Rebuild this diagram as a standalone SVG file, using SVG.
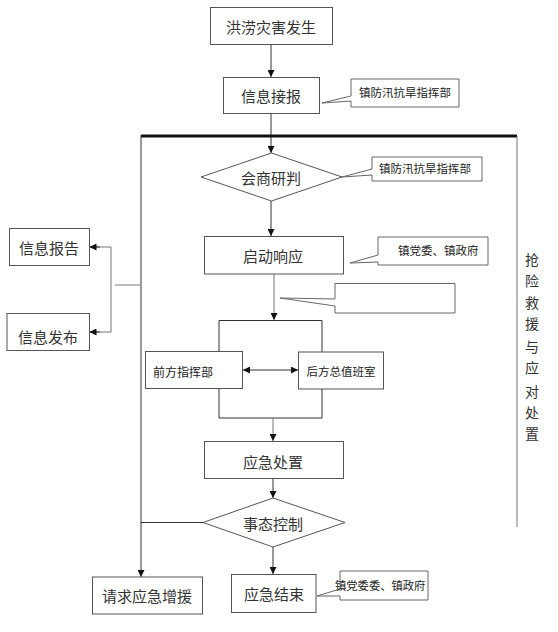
<svg xmlns="http://www.w3.org/2000/svg" width="558" height="632" viewBox="0 0 558 632">
<defs>
<marker id="ah" viewBox="0 0 10 10" refX="10" refY="5" markerWidth="7" markerHeight="7" orient="auto-start-reverse" markerUnits="userSpaceOnUse">
<path d="M0,0 L10,5 L0,10 Z" fill="#111"/>
</marker>
<style>
.box{fill:#fff;stroke:#555;stroke-width:1}
.co{fill:#fff;stroke:#666;stroke-width:1}
.t{font-family:"Noto Sans CJK SC","Liberation Sans",sans-serif;font-size:15px;fill:#333;text-anchor:middle;dominant-baseline:central}
.v{font-family:"Noto Sans CJK SC","Liberation Sans",sans-serif;font-size:14px;fill:#333;text-anchor:middle;dominant-baseline:central}
.s{font-family:"Noto Sans CJK SC","Liberation Sans",sans-serif;font-size:11.5px;fill:#222;dominant-baseline:central}
.ln{fill:none;stroke:#333;stroke-width:1}
.lg{fill:none;stroke:#777;stroke-width:1}
</style>
</defs>
<rect width="558" height="632" fill="#fff"/>
<g id="connectors">
<line class="ln" x1="271" y1="44" x2="271" y2="77" marker-end="url(#ah)"/>
<line class="ln" x1="271" y1="113" x2="271" y2="153" marker-end="url(#ah)"/>
<line x1="141" y1="136" x2="517" y2="136" stroke="#111" stroke-width="3"/>
<line class="lg" x1="517" y1="136" x2="517" y2="527"/>
<line class="ln" x1="141" y1="135" x2="141" y2="577" marker-end="url(#ah)"/>
<line class="ln" x1="271" y1="201" x2="271" y2="236" marker-end="url(#ah)"/>
<line class="lg" x1="274" y1="274" x2="274" y2="320" marker-end="url(#ah)"/>
<polyline class="ln" points="219,351 219,320.5 322,320.5 322,352"/>
<polyline class="ln" points="219,388 219,418 322,418 322,389"/>
<line class="ln" x1="243" y1="370" x2="298" y2="370" marker-start="url(#ah)" marker-end="url(#ah)"/>
<line class="lg" x1="273" y1="418" x2="273" y2="441" marker-end="url(#ah)"/>
<line class="ln" x1="273" y1="478" x2="273" y2="498" marker-end="url(#ah)"/>
<line class="ln" x1="141" y1="522.5" x2="203" y2="522.5"/>
<line class="ln" x1="273" y1="547" x2="273" y2="574" marker-end="url(#ah)"/>
<line class="lg" x1="140" y1="285" x2="115" y2="285"/>
<polyline class="lg" points="89,247 111,247 111,332 89,332"/>
<line class="ln" x1="100" y1="247" x2="89.5" y2="247" marker-end="url(#ah)"/>
<line class="ln" x1="100" y1="332" x2="89.5" y2="332" marker-end="url(#ah)"/>
</g>
<g id="n1"><rect class="box" x="210.5" y="7.5" width="122" height="37"/><text class="t" x="271" y="26">洪涝灾害发生</text></g>
<g id="n2"><rect class="box" x="223.5" y="77.5" width="96" height="36"/><text class="t" x="271" y="95">信息接报</text></g>
<g id="c1"><polygon class="co" points="351,79 459,79 459,107 351,107 351,101 322,103 351,96"/><text class="s" x="359" y="92">镇防汛抗旱指挥部</text></g>
<g id="n3"><polygon class="box" points="201,177 271.5,153 342,177 271.5,201"/><text class="t" x="271" y="177">会商研判</text></g>
<g id="c2"><polygon class="co" points="372,157 482,157 482,181 372,181 372,175 342,177 372,169"/><text class="s" x="379" y="168">镇防汛抗旱指挥部</text></g>
<g id="n4"><rect class="box" x="204.5" y="236.5" width="139" height="37.5"/><text class="t" x="273" y="255">启动响应</text></g>
<g id="c3"><polygon class="co" points="378,237 488,237 488,265 378,265 378,262 350,263 378,255"/><text class="s" x="398" y="250">镇党委、镇政府</text></g>
<g id="c4"><polygon class="co" points="335,283.5 455,283.5 455,313 335,313 335,306 280,298 335,299"/></g>
<g id="n5"><rect class="box" x="145.5" y="351.5" width="97" height="37"/><text class="s" x="153" y="371" style="font-size:12px">前方指挥部</text></g>
<g id="n6"><rect class="box" x="298.5" y="352" width="85" height="37"/><text class="s" x="341" y="371" style="text-anchor:middle;font-size:11.5px">后方总值班室</text></g>
<g id="n7"><rect class="box" x="204.5" y="441.5" width="139" height="37"/><text class="t" x="273" y="461">应急处置</text></g>
<g id="n8"><polygon class="box" points="203,522.5 273,498 345,522.5 273,547"/><text class="t" x="273" y="523">事态控制</text></g>
<g id="n9"><rect class="box" x="92.5" y="577" width="110" height="37"/><text class="t" x="147" y="595">请求应急增援</text></g>
<g id="n10"><rect class="box" x="231.5" y="574.5" width="84.5" height="38"/><text class="t" x="274" y="593">应急结束</text></g>
<g id="c5"><polygon class="co" points="340,571 428,571 428,600 340,600 340,596 317,596 340,589"/><text class="s" x="335" y="585" style="font-size:11.3px">镇党委委、镇政府</text></g>
<g id="side">
<text class="v" x="532" y="259">抢</text>
<text class="v" x="532" y="280">险</text>
<text class="v" x="532" y="302">救</text>
<text class="v" x="532" y="323">援</text>
<text class="v" x="532" y="346">与</text>
<text class="v" x="532" y="367">应</text>
<text class="v" x="532" y="391">对</text>
<text class="v" x="532" y="412">处</text>
<text class="v" x="532" y="433">置</text>
</g>
<g id="n11"><rect class="box" x="9.5" y="228.5" width="80" height="37"/><text class="t" x="49" y="247">信息报告</text></g>
<g id="n12"><rect class="box" x="7" y="313.5" width="82.5" height="37"/><text class="t" x="48" y="336">信息发布</text></g>
</svg>
